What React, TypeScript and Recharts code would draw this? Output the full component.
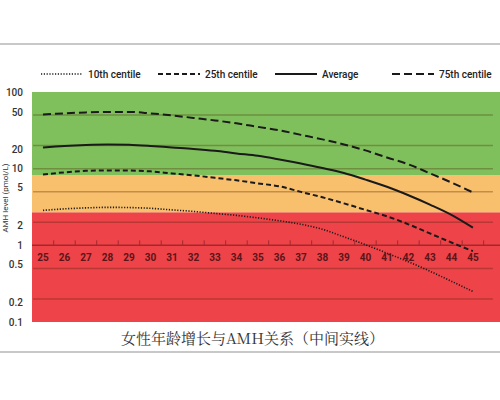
import React from "react";
import {
  LineChart,
  Line,
  XAxis,
  YAxis,
  ReferenceArea,
  ReferenceLine,
} from "recharts";

const ages = [25, 26, 27, 28, 29, 30, 31, 32, 33, 34, 35, 36, 37, 38, 39, 40, 41, 42, 43, 44, 45];
const centile10 = [2.86, 2.99, 3.08, 3.13, 3.11, 3.04, 2.9, 2.77, 2.61, 2.46, 2.28, 2.09, 1.88, 1.62, 1.29, 1.02, 0.79, 0.61, 0.46, 0.34, 0.25];
const centile25 = [8.4, 8.95, 9.36, 9.5, 9.44, 9.22, 8.68, 8.18, 7.59, 7.04, 6.43, 5.88, 4.98, 4.23, 3.53, 2.9, 2.39, 1.88, 1.43, 1.09, 0.84];
const average = [18.9, 19.8, 20.4, 20.7, 20.5, 19.8, 18.9, 18.1, 17.1, 15.8, 14.7, 13.2, 11.7, 10.2, 8.8, 7.2, 5.8, 4.5, 3.4, 2.5, 1.7];
const centile75 = [51, 52.6, 54.2, 55, 55, 52.6, 49.5, 45.9, 42.6, 39, 35.1, 31.6, 27.6, 24.1, 20.7, 17.3, 14, 11.4, 8.7, 6.6, 4.9];
const yTicks = [0.1, 0.2, 0.5, 1, 2, 5, 10, 20, 50, 100];
const gridValues = [0.2, 0.5, 2, 5, 10, 20, 50];
const bandLimits = [0.1, 2.7, 8.2, 100];
const seriesNames = ["10th centile", "25th centile", "Average", "75th centile"];
const caption = "女性年龄增长与AMH关系（中间实线）";
const yLabel = "AMH level (pmol/L)";

const data = ages.map((age, i) => ({
  age,
  p10: centile10[i],
  p25: centile25[i],
  avg: average[i],
  p75: centile75[i],
}));

const PLOT_TOP = 92;
const PLOT_H = 230;
const Y_ONE = PLOT_TOP + (PLOT_H * 2) / 3;
const FONT = "Roboto, 'DejaVu Sans', sans-serif";

const bandColors = ["#ee4449", "#f8bf6c", "#80c05c"];
const keys = ["p10", "p25", "avg", "p75"];
const dashes = ["1.2 1.6", "5 3", undefined, "8 4"];
const widths = [1.6, 2, 2, 2];

// labels in the original sit slightly off the gridlines
const labelShift: Record<string, number> = { "50": -3, "20": 4, "5": -4, "2": 3, "0.5": -4, "0.2": 4 };

const YTick = (props: any) => {
  const { y, payload } = props;
  return (
    <text
      x={23}
      y={y + (labelShift[String(payload.value)] || 0)}
      dy={3.5}
      textAnchor="end"
      fontSize={10}
      fontWeight={500}
      fontFamily={FONT}
      fill="#333"
    >
      {payload.value}
    </text>
  );
};

const XTick = (props: any) => {
  const { x, payload } = props;
  return (
    <g>
      <line x1={x + 10.75} x2={x + 10.75} y1={Y_ONE - 5} y2={Y_ONE} stroke="#a3282d" strokeWidth={1} />
      <text
        x={x}
        y={Y_ONE + 16}
        textAnchor="middle"
        fontSize={10}
        fontWeight={700}
        fontFamily={FONT}
        fill="#5a1518"
      >
        {payload.value}
      </text>
    </g>
  );
};

export default function App() {
  return (
    <div
      style={{
        position: "absolute",
        left: 0,
        top: 0,
        width: 500,
        height: 400,
        overflow: "hidden",
        background: "#fff",
      }}
    >
      <div style={{ position: "absolute", left: 0, top: 43, width: 500, height: 2, background: "#c8c8c8" }} />
      <div style={{ position: "absolute", left: 0, top: 351, width: 500, height: 2, background: "#c8c8c8" }} />

      {/* legend */}
      <div style={{ position: "absolute", left: 40, top: 66, display: "flex" }}>
        {seriesNames.map((name, i) => (
          <div key={name} style={{ width: 117, display: "flex", alignItems: "center" }}>
            <svg width={44} height={16}>
              <line
                x1={1}
                x2={43}
                y1={8}
                y2={8}
                stroke="#1a1a1a"
                strokeWidth={widths[i]}
                strokeDasharray={dashes[i]}
              />
            </svg>
            <span
              style={{
                marginLeft: 4,
                fontFamily: FONT,
                fontSize: 10,
                fontWeight: 500,
                color: "#222",
              }}
            >
              {name}
            </span>
          </div>
        ))}
      </div>

      <div
        style={{
          position: "absolute",
          left: 4.5,
          top: 198,
          transform: "translate(-50%, -50%) rotate(-90deg)",
          fontFamily: FONT,
          fontSize: 8,
          lineHeight: "9px",
          color: "#333",
          whiteSpace: "nowrap",
        }}
      >
        {yLabel}
      </div>

      <div style={{ position: "absolute", left: 0, top: 0 }}>
        <LineChart
          width={500}
          height={400}
          data={data}
          margin={{ top: PLOT_TOP, right: 0, bottom: 58, left: 0 }}
        >
          {bandColors.map((c, i) => (
            <ReferenceArea
              key={c}
              y1={bandLimits[i]}
              y2={bandLimits[i + 1]}
              fill={c}
              fillOpacity={1}
              stroke="none"
            />
          ))}
          {gridValues.map((v) => (
            <ReferenceLine
              key={v}
              segment={[
                { x: 24.54, y: v },
                { x: 45.93, y: v },
              ]}
              stroke="rgba(70,25,0,0.3)"
              strokeWidth={1.5}
            />
          ))}
          <ReferenceLine y={1} stroke="#a3282d" strokeWidth={1.5} />
          <XAxis
            dataKey="age"
            type="number"
            domain={[24.49, 46.26]}
            ticks={ages}
            interval={0}
            height={20}
            axisLine={false}
            tickLine={false}
            tick={<XTick />}
          />
          <YAxis
            scale="log"
            domain={[0.1, 100]}
            ticks={yTicks}
            interval={0}
            width={32}
            axisLine={false}
            tickLine={false}
            tick={<YTick />}
            allowDataOverflow
          />
          {keys.map((k, i) => (
            <Line
              key={k}
              dataKey={k}
              name={seriesNames[i]}
              type="monotone"
              stroke="#1a1a1a"
              strokeWidth={widths[i]}
              strokeDasharray={dashes[i]}
              dot={false}
              isAnimationActive={false}
            />
          ))}
        </LineChart>
      </div>

      <div
        style={{
          position: "absolute",
          left: 0,
          top: 327,
          width: 505,
          textAlign: "center",
          fontFamily: "'Noto Serif CJK SC', 'Noto Sans CJK SC', serif",
          fontSize: 15,
          color: "#333",
        }}
      >
        {caption}
      </div>
    </div>
  );
}
